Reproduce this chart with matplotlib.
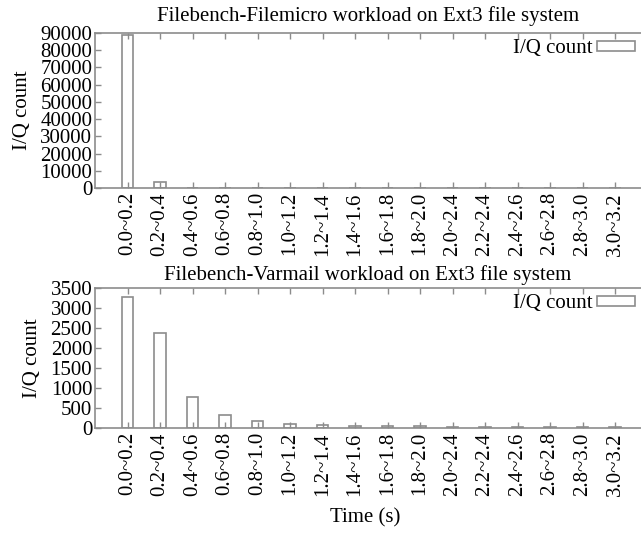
import matplotlib
matplotlib.use("Agg")
import matplotlib.pyplot as plt
import numpy as np

plt.rcParams["font.family"] = ["Liberation Serif", "DejaVu Serif"]
plt.rcParams["font.size"] = 15

# time buckets (the sixth label is printed as 2.0~2.4 in the source data)
intervals = ["0.0~0.2", "0.2~0.4", "0.4~0.6", "0.6~0.8", "0.8~1.0",
             "1.0~1.2", "1.2~1.4", "1.4~1.6", "1.6~1.8", "1.8~2.0",
             "2.0~2.4", "2.2~2.4", "2.4~2.6", "2.6~2.8", "2.8~3.0",
             "3.0~3.2"]
filemicro_counts = [89000, 3250, 60, 40, 30, 25, 20, 15, 15, 10, 10, 10, 10, 10, 10, 10]
varmail_counts = [3265, 2365, 780, 335, 170, 110, 70, 60, 55, 45, 25, 20, 20, 15, 15, 15]

filemicro_yticks = list(range(0, 90001, 10000))
varmail_yticks = list(range(0, 3501, 500))

edge = "#8c8c8c"

fig = plt.figure(figsize=(6.41, 5.42), dpi=100)
ax1 = fig.add_axes([95 / 641, 1 - 188 / 542, 546 / 641, 155 / 542])
ax2 = fig.add_axes([95 / 641, 1 - 428 / 542, 546 / 641, 140 / 542])

x = np.arange(len(intervals))


def draw_panel(ax, counts, yticks, title, title_pad):
    ax.bar(x, counts, width=0.34, color="white", edgecolor=edge,
           linewidth=1.2, label="I/Q count")
    ax.set_xlim(-1, 15.8)
    ax.set_ylim(yticks[0], yticks[-1])
    ax.set_yticks(yticks)
    ax.set_xticks(x)
    ax.set_xticklabels(intervals, rotation=90)
    ax.tick_params(direction="in", length=4, color=edge, width=1,
                   top=True, pad=3)
    ax.tick_params(axis="y", pad=2)
    for s in ax.spines.values():
        s.set_color(edge)
        s.set_linewidth(1.2)
    ax.spines["right"].set_visible(False)
    ax.set_ylabel("I/Q count", labelpad=6)
    ax.set_title(title, fontsize=15, pad=title_pad)
    leg = ax.legend(loc="upper right", frameon=False, markerfirst=False,
                    handlelength=1.8, handleheight=0.35, handletextpad=0.2,
                    borderaxespad=0.1, borderpad=0.2)
    for h in leg.legend_handles:
        h.set_edgecolor(edge)


draw_panel(ax1, filemicro_counts, filemicro_yticks,
           "Filebench-Filemicro workload on Ext3 file system", 9)
draw_panel(ax2, varmail_counts, varmail_yticks,
           "Filebench-Varmail workload on Ext3 file system", 6)

fig.text(365 / 641, 1 - 518 / 542, "Time (s)", ha="center", va="center",
         fontsize=15)

fig.savefig("out.png", dpi=100)
